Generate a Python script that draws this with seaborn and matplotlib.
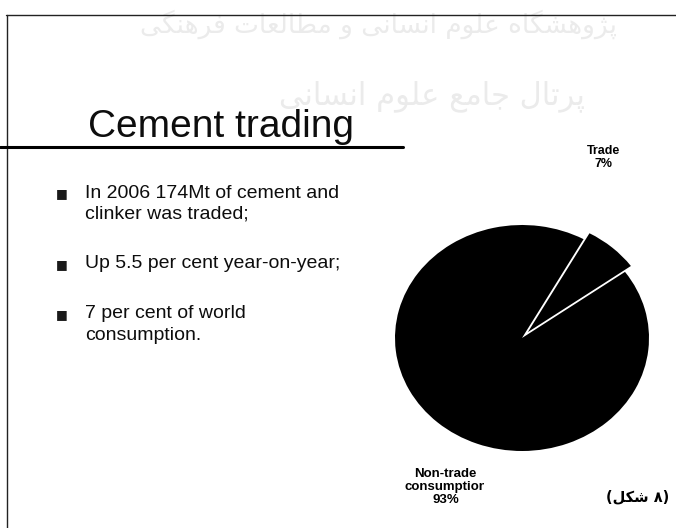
import matplotlib
matplotlib.use("Agg")
import matplotlib.pyplot as plt
import seaborn as sns
from matplotlib.lines import Line2D
from matplotlib.transforms import Bbox

# slide content
title = "Cement trading"
bullets = [
    ["In 2006 174Mt of cement and", "clinker was traded;"],
    ["Up 5.5 per cent year-on-year;"],
    ["7 per cent of world", "consumption."],
]
slices = ["Trade", "Non-trade consumption"]
shares = [7, 93]
caption_word = "شکل"
caption_num = "۸"
watermark = ["پژوهشگاه علوم انسانی و مطالعات فرهنگی", "پرتال جامع علوم انسانی"]

W, H = 676, 528


def fx(x):
    return x / W


def fy(y):
    return 1 - y / H


# tiny arabic shaper: matplotlib has no text shaping, so map to presentation forms
DUAL = {
    "ب": "\uFE8F\uFE90\uFE91\uFE92", "پ": "\uFB56\uFB57\uFB58\uFB59",
    "ت": "\uFE95\uFE96\uFE97\uFE98", "ج": "\uFE9D\uFE9E\uFE9F\uFEA0",
    "س": "\uFEB1\uFEB2\uFEB3\uFEB4", "ش": "\uFEB5\uFEB6\uFEB7\uFEB8",
    "ط": "\uFEC1\uFEC2\uFEC3\uFEC4", "ع": "\uFEC9\uFECA\uFECB\uFECC",
    "ف": "\uFED1\uFED2\uFED3\uFED4", "ک": "\uFB8E\uFB8F\uFB90\uFB91",
    "گ": "\uFB92\uFB93\uFB94\uFB95", "ل": "\uFEDD\uFEDE\uFEDF\uFEE0",
    "م": "\uFEE1\uFEE2\uFEE3\uFEE4", "ن": "\uFEE5\uFEE6\uFEE7\uFEE8",
    "ه": "\uFEE9\uFEEA\uFEEB\uFEEC", "ی": "\uFBFC\uFBFD\uFBFE\uFBFF",
}
RIGHT = {
    "ا": "\uFE8D\uFE8E", "ر": "\uFEAD\uFEAE", "ژ": "\uFB8A\uFB8B",
    "و": "\uFEED\uFEEE", "د": "\uFEA9\uFEAA",
}


def shape(text):
    out = []
    for i, ch in enumerate(text):
        prev = text[i - 1] if i > 0 else ""
        nxt = text[i + 1] if i + 1 < len(text) else ""
        join_prev = prev in DUAL and (ch in DUAL or ch in RIGHT)
        join_next = ch in DUAL and (nxt in DUAL or nxt in RIGHT)
        if ch in DUAL:
            forms = DUAL[ch]
            if join_prev and join_next:
                out.append(forms[3])
            elif join_prev:
                out.append(forms[1])
            elif join_next:
                out.append(forms[2])
            else:
                out.append(forms[0])
        elif ch in RIGHT:
            out.append(RIGHT[ch][1] if join_prev else RIGHT[ch][0])
        else:
            out.append(ch)
    return "".join(reversed(out))


sns.set_theme(style="white")
plt.rcParams["font.family"] = ["Liberation Sans", "DejaVu Sans"]
plt.rcParams["text.color"] = "black"

fig = plt.figure(figsize=(W / 100, H / 100), dpi=100)
fig.patch.set_facecolor("white")

# faint watermark
fig.text(fx(378), fy(24), shape(watermark[0]), fontsize=19, color="#ebebeb",
         family="DejaVu Sans", ha="center", va="center", zorder=0)
fig.text(fx(432), fy(96), shape(watermark[1]), fontsize=22, color="#ebebeb",
         family="DejaVu Sans", ha="center", va="center", zorder=0)

# slide frame and title rule
fig.add_artist(Line2D([fx(6), 1], [fy(15), fy(15)], color="#222222", lw=1))
fig.add_artist(Line2D([fx(7), fx(7)], [fy(15), 0], color="#222222", lw=1))
fig.add_artist(Line2D([0, fx(403)], [fy(147), fy(147)], color="black", lw=2.2))

fig.text(fx(88), fy(137), title, fontsize=28, color="#0d0d0d", ha="left", va="baseline")

# bullet list
line_y = [[193, 214], [264], [314, 335]]
for lines, ys in zip(bullets, line_y):
    fig.text(fx(62), fy(ys[0] + 1), "\u25A0", fontsize=9, color="#1a1a1a",
             family="DejaVu Sans", ha="center", va="center")
    for txt, y in zip(lines, ys):
        fig.text(fx(85), fy(y), txt, fontsize=14, color="#0d0d0d", ha="left", va="center")

# pie, drawn a bit wider than tall like the scan
ax = fig.add_axes([fx(522 - 190.5), fy(338 + 169.5), 381 / W, 339 / H])
ax.pie(shares, colors=["black", "black"], explode=[0.07, 0], startangle=35.8,
       counterclock=True, wedgeprops=dict(linewidth=0))
ax.set_aspect("auto")
ax.set_xlim(-1.5, 1.5)
ax.set_ylim(-1.5, 1.5)
ax.axis("off")

ax.text(0.64, 1.6, f"{slices[0]}\n{shares[0]}%", fontsize=9, fontweight="bold",
        color="black", ha="center", va="center", linespacing=1.1)
lab = ax.text(-0.6, -1.32, f"Non-trade\nconsumption\n{shares[1]}%", fontsize=9.5,
              fontweight="bold", color="black", ha="center", va="center", linespacing=1.1)
lab.set_clip_box(Bbox.from_extents(0, 0, 484, H))
lab.set_clip_on(True)

# persian caption
fig.text(fx(638), fy(497), "(" + shape(caption_word) + " " + caption_num + ")",
         fontsize=10.5, fontweight="bold", color="black", family="DejaVu Sans",
         ha="center", va="center")

fig.savefig("out.png", dpi=100, facecolor="white")
